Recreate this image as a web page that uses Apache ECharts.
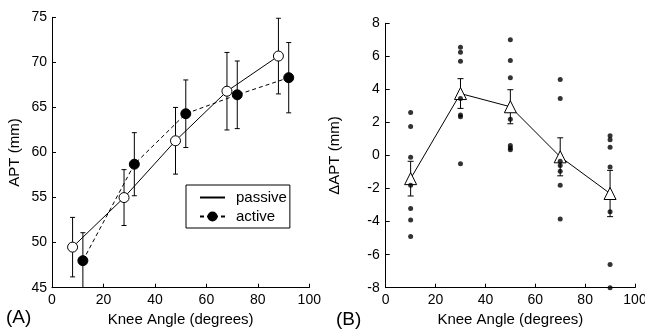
<!DOCTYPE html>
<html><head><meta charset="utf-8">
<script src="https://cdn.jsdelivr.net/npm/echarts@6/dist/echarts.min.js"></script>
<style>html,body{margin:0;padding:0;background:#fff}#c{width:645px;height:330px}</style>
</head><body><div id="c"></div>
<script>
// Panel A
const passiveAngle = [8, 28, 48, 68, 88];
const passiveAPT   = [49.5, 55.0, 61.3, 66.8, 70.7];
const passiveErr   = [3.3, 3.1, 3.7, 4.3, 4.2];
const activeAngle  = [12, 32, 52, 72, 92];
const activeAPT    = [48.0, 58.7, 64.3, 66.4, 68.3];
const activeErr    = [3.1, 3.5, 3.75, 3.75, 3.9];
// Panel B
const deltaAngle = [10, 30, 50, 70, 90];
const deltaMean  = [-1.4, 3.75, 2.95, -0.08, -2.3];
const deltaErr   = [1.05, 0.9, 1.03, 1.15, 1.4];
const dots10 = [2.6, 1.75, -0.1, -1.8, -3.2, -3.9, -4.9];
const dots30 = [6.55, 6.25, 5.7, 3.45, 2.45, 2.35, -0.5];
const dots50 = [7.0, 5.75, 4.7, 2.2, 0.6, 0.35, 0.45];
const dots70 = [4.6, 3.45, -0.35, -0.6, -0.95, -1.8, -3.85];
const dots90 = [1.2, 0.95, 0.5, -0.7, -3.4, -6.6, -8.0];
const xTicksA = [0, 20, 40, 60, 80, 100];
const yTicksA = [45, 50, 55, 60, 65, 70, 75];
const yTicksB = [-8, -6, -4, -2, 0, 2, 4, 6, 8];

const FONT = '"Liberation Sans", Arial, sans-serif';
const dotsAll = [dots10, dots30, dots50, dots70, dots90];
const dotData = [];
dotsAll.forEach((arr, i) => arr.forEach(v => dotData.push([deltaAngle[i], v])));

function errorBarRender(cap) {
  return function (params, api) {
    const x = api.value(0), lo = api.value(1), hi = api.value(2);
    const a = api.coord([x, lo]), b = api.coord([x, hi]);
    const s = { stroke: '#000', lineWidth: 1 };
    return { type: 'group', children: [
      { type: 'line', shape: { x1: a[0], y1: a[1], x2: b[0], y2: b[1] }, style: s },
      { type: 'line', shape: { x1: a[0] - cap, y1: a[1], x2: a[0] + cap, y2: a[1] }, style: s },
      { type: 'line', shape: { x1: b[0] - cap, y1: b[1], x2: b[0] + cap, y2: b[1] }, style: s }
    ]};
  };
}

function xAxisCfg(gridIndex) {
  return {
    gridIndex, type: 'value', min: xTicksA[0], max: xTicksA[xTicksA.length - 1], interval: 20,
    name: 'Knee Angle (degrees)', nameLocation: 'middle', nameGap: 25,
    nameTextStyle: { fontSize: 15, color: '#000', fontFamily: FONT },
    axisLine: { show: true, onZero: false, lineStyle: { color: '#000', width: 1 } },
    axisTick: { show: true, inside: true, length: 4, lineStyle: { color: '#000' } },
    axisLabel: { fontSize: 14, color: '#000', fontFamily: FONT, margin: 5 },
    splitLine: { show: false }
  };
}

const chart = echarts.init(document.getElementById('c'));
chart.setOption({
  backgroundColor: '#fff',
  animation: false,
  title: [
    { text: '(A)', left: 6, top: 308, padding: 0, textStyle: { fontSize: 19, fontWeight: 'normal', color: '#000', fontFamily: FONT } },
    { text: '(B)', left: 336, top: 310, padding: 0, textStyle: { fontSize: 19, fontWeight: 'normal', color: '#000', fontFamily: FONT } }
  ],
  grid: [
    { left: 52, top: 17.3, width: 257.3, bottom: 42.3, containLabel: false, outerBoundsMode: 'none' },
    { left: 385.7, top: 23.3, width: 249.3, bottom: 42.3, containLabel: false, outerBoundsMode: 'none' }
  ],
  legend: {
    orient: 'vertical', left: 186, top: 185, padding: [5, 3, 4, 13],
    itemWidth: 25, itemHeight: 10, itemGap: 4,
    borderColor: '#000', borderWidth: 1, borderRadius: 0,
    textStyle: { fontSize: 15, color: '#000', fontFamily: FONT, padding: [0, 0, 0, 6] },
    data: [
      { name: 'passive', itemStyle: { opacity: 0 } },
      { name: 'active' }
    ]
  },
  xAxis: [xAxisCfg(0), xAxisCfg(1)],
  yAxis: [
    { gridIndex: 0, type: 'value', min: yTicksA[0], max: yTicksA[yTicksA.length - 1], interval: 5,
      name: 'APT (mm)', nameLocation: 'middle', nameGap: 30,
      nameTextStyle: { fontSize: 15, color: '#000', fontFamily: FONT },
      axisLine: { show: true, onZero: false, lineStyle: { color: '#000', width: 1 } },
      axisTick: { show: true, inside: true, length: 4, lineStyle: { color: '#000' } },
      axisLabel: { fontSize: 14, color: '#000', fontFamily: FONT, margin: 5 },
      splitLine: { show: false } },
    { gridIndex: 1, type: 'value', min: yTicksB[0], max: yTicksB[yTicksB.length - 1], interval: 2,
      name: 'ΔAPT (mm)', nameLocation: 'middle', nameGap: 43,
      nameTextStyle: { fontSize: 15, color: '#000', fontFamily: FONT },
      axisLine: { show: true, onZero: false, lineStyle: { color: '#000', width: 1 } },
      axisTick: { show: true, inside: true, length: 4, lineStyle: { color: '#000' } },
      axisLabel: { fontSize: 14, color: '#000', fontFamily: FONT, margin: 6 },
      splitLine: { show: false } }
  ],
  series: [
    { type: 'custom', name: 'passiveErr', xAxisIndex: 0, yAxisIndex: 0, z: 1, clip: true,
      renderItem: errorBarRender(2.5), encode: { x: 0, y: [1, 2] },
      data: passiveAngle.map((x, i) => [x, passiveAPT[i] - passiveErr[i], passiveAPT[i] + passiveErr[i]]) },
    { type: 'custom', name: 'activeErr', xAxisIndex: 0, yAxisIndex: 0, z: 1, clip: true,
      renderItem: errorBarRender(2.5), encode: { x: 0, y: [1, 2] },
      data: activeAngle.map((x, i) => [x, activeAPT[i] - activeErr[i], activeAPT[i] + activeErr[i]]) },
    { type: 'line', name: 'passive', xAxisIndex: 0, yAxisIndex: 0, z: 3,
      symbol: 'circle', symbolSize: 10,
      itemStyle: { color: '#fff', borderColor: '#000', borderWidth: 1 },
      lineStyle: { color: '#000', width: 1, type: 'solid' },
      data: passiveAngle.map((x, i) => [x, passiveAPT[i]]) },
    { type: 'line', name: 'active', xAxisIndex: 0, yAxisIndex: 0, z: 3,
      symbol: 'circle', symbolSize: 10,
      itemStyle: { color: '#000', borderColor: '#000', borderWidth: 1 },
      lineStyle: { color: '#000', width: 1, type: [4, 3] },
      data: activeAngle.map((x, i) => [x, activeAPT[i]]) },
    { type: 'custom', name: 'deltaErr', xAxisIndex: 1, yAxisIndex: 1, z: 1, clip: true,
      renderItem: errorBarRender(3), encode: { x: 0, y: [1, 2] },
      data: deltaAngle.map((x, i) => [x, deltaMean[i] - deltaErr[i], deltaMean[i] + deltaErr[i]]) },
    { type: 'line', name: 'mean', xAxisIndex: 1, yAxisIndex: 1, z: 3,
      symbol: 'triangle', symbolSize: 12,
      itemStyle: { color: '#fff', borderColor: '#000', borderWidth: 1 },
      lineStyle: { color: '#000', width: 1 },
      data: deltaAngle.map((x, i) => [x, deltaMean[i]]) },
    { type: 'scatter', name: 'individual', xAxisIndex: 1, yAxisIndex: 1, z: 4,
      symbol: 'circle', symbolSize: 5, clip: false,
      itemStyle: { color: '#000' },
      data: dotData }
  ]
});
</script>
</body></html>
